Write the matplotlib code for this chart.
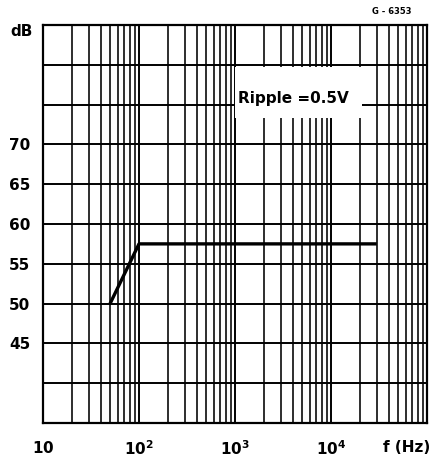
import numpy as np
import matplotlib
matplotlib.use("Agg")
import matplotlib.pyplot as plt
from matplotlib.ticker import LogLocator, NullFormatter
from matplotlib.patches import Rectangle

# curve
freq = [50, 100, 30000]
gain = [50, 57.5, 57.5]

ytick_vals = [45, 50, 55, 60, 65, 70]
xtick_vals = [10, 100, 1000, 10000]
xtick_labels = [r'$\mathbf{10}$', r'$\mathbf{10^2}$', r'$\mathbf{10^3}$', r'$\mathbf{10^4}$']

plt.rcParams['font.family'] = ['DejaVu Sans']

fig = plt.figure(figsize=(4.33, 4.62), dpi=100)
ax = fig.add_axes([0.0993, 0.0844, 0.8867, 0.8616])
ax.set_xscale('log')
ax.set_xlim(10, 1e5)
ax.set_ylim(35, 85)

# grid: every 5 dB, full log grid in x
ax.set_yticks(np.arange(35, 86, 5))
ax.set_yticklabels(['' if v not in ytick_vals else str(v) for v in np.arange(35, 86, 5)])
ax.set_xticks(xtick_vals)
ax.set_xticklabels(xtick_labels)
ax.xaxis.set_minor_locator(LogLocator(base=10, subs=np.arange(2, 10), numticks=20))
ax.xaxis.set_minor_formatter(NullFormatter())
ax.grid(True, which='major', color='black', lw=1.4)
ax.grid(True, which='minor', axis='x', color='black', lw=1.15)
ax.tick_params(which='both', length=0, labelsize=11)
ax.tick_params(axis='x', pad=12)
ax.tick_params(axis='y', pad=9)
for lab in ax.get_xticklabels() + ax.get_yticklabels():
    lab.set_fontweight('bold')
for s in ax.spines.values():
    s.set_linewidth(1.6)

ax.plot(freq, gain, color='black', lw=2.4, solid_capstyle='butt', zorder=5)

# white label box over the grid
ax.add_patch(Rectangle((1010, 73.3), 21000 - 1010, 79.75 - 73.3, facecolor='white',
                       edgecolor='none', zorder=4))
ax.text(1070, 75.8, 'Ripple =0.5V', fontsize=11, fontweight='bold', ha='left', va='center',
        zorder=6)

fig.text(33 / 433, 1 - 32 / 462, 'dB', fontsize=11, fontweight='bold', ha='right', va='center')
fig.text(430 / 433, 1 - 447 / 462, 'f (Hz)', fontsize=11, fontweight='bold', ha='right', va='center')
fig.text(412 / 433, 1 - 12 / 462, 'G - 6353', fontsize=6, fontweight='bold', ha='right', va='center')

fig.savefig('out.png', dpi=100)
